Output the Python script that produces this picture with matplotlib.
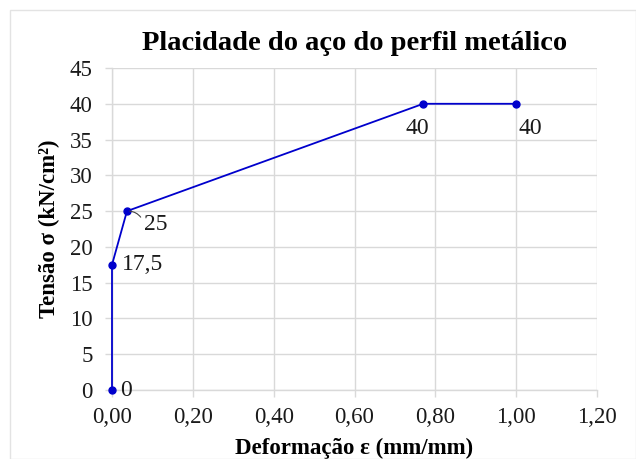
#!/usr/bin/env python3

import matplotlib.pyplot as plt
from matplotlib.ticker import FuncFormatter, MultipleLocator
from matplotlib.patches import Rectangle

# Dados
deformacao = [0.0, 0.0, 0.037, 0.77, 1.0]
tensao = [0.0, 17.5, 25.0, 40.0, 40.0]
rotulos = ["0", "17,5", "25", "40", "40"]

plt.rcParams['font.family'] = ['Liberation Serif', 'DejaVu Serif']

GRID = '#d9d9d9'

fig = plt.figure(figsize=(6.36, 4.59), dpi=100)
ax = fig.add_axes([112 / 636, 1 - 390 / 459, (597 - 112) / 636, (390 - 68) / 459])

# borda da área do gráfico
fig.patches.append(Rectangle((10 / 636, 0.0), 626 / 636, 1 - 10 / 459,
                             transform=fig.transFigure, fill=False,
                             edgecolor='#e3e3e3', linewidth=1))

ax.plot(deformacao, tensao, color='#0000cc', linewidth=1.3, marker='o', markersize=5,
        zorder=3, clip_on=False)

# rótulos dos pontos
offsets = [(6, 0, 'left', 'center'),
           (7, 0, 'left', 'center'),
           (12, -2, 'left', 'top'),
           (-4, -10, 'center', 'top'),
           (2, -10, 'left', 'top')]
for x, y, txt, (dx, dy, ha, va) in zip(deformacao, tensao, rotulos, offsets):
    ax.annotate(txt, (x, y), xytext=(dx, dy), textcoords='offset points',
                ha=ha, va=va, fontsize=17, color='#1a1a1a')
# linha de chamada do rótulo 25
ax.annotate("", (deformacao[2], tensao[2]), xytext=(11, -6), textcoords='offset points',
            arrowprops=dict(arrowstyle='-', color='#404040', linewidth=0.8,
                            connectionstyle='arc3,rad=0.3'))

ax.set_xlim(0, 1.2)
ax.set_ylim(0, 45)
ax.xaxis.set_major_locator(MultipleLocator(0.2))
ax.yaxis.set_major_locator(MultipleLocator(5))
ax.xaxis.set_major_formatter(FuncFormatter(lambda v, p: f"{v:.2f}".replace('.', ',')))
ax.grid(True, color=GRID, linewidth=1)
ax.set_axisbelow(True)
for s in ['top', 'right']:
    ax.spines[s].set_visible(False)
for s in ['left', 'bottom']:
    ax.spines[s].set_color(GRID)
    ax.spines[s].set_linewidth(1)
ax.tick_params(length=5, width=1, color=GRID, labelsize=16.5, labelcolor='#1a1a1a')
ax.tick_params(axis='y', pad=9)
ax.tick_params(axis='x', pad=7)

ax.set_title("Placidade do aço do perfil metálico", fontsize=20.5, fontweight='bold', pad=13)
ax.set_xlabel("Deformação ε (mm/mm)", fontsize=16.5, fontweight='bold', labelpad=7)
ax.set_ylabel("Tensão σ (kN/cm²)", fontsize=16.5, fontweight='bold', labelpad=7)

fig.savefig("out.png", dpi=100)
